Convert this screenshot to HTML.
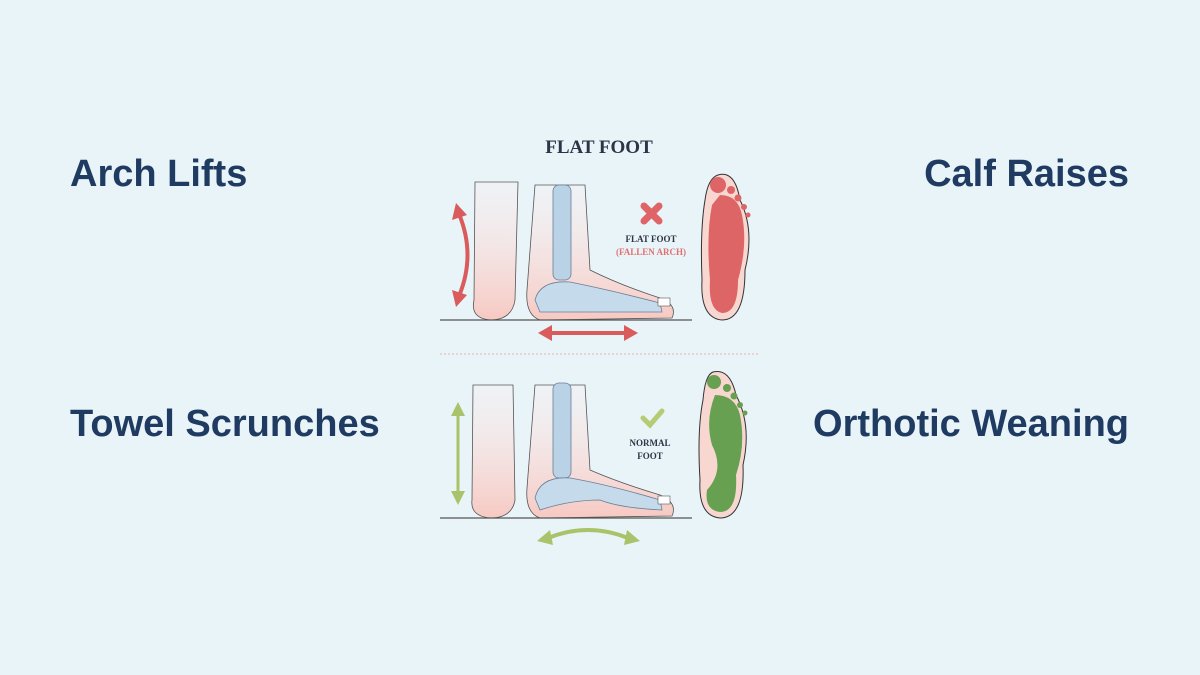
<!DOCTYPE html>
<html><head><meta charset="utf-8"><style>
html,body{margin:0;padding:0;}
body{width:1200px;height:675px;background:#e9f4f9;overflow:hidden;position:relative;font-family:"Liberation Sans",Arial,sans-serif;}
.l{position:absolute;font-weight:bold;font-size:38px;color:#1f3b61;line-height:1;white-space:nowrap;}
</style></head><body>
<div class="l" style="left:70px;top:155px;">Arch Lifts</div>
<div class="l" style="right:71px;top:155px;">Calf Raises</div>
<div class="l" style="left:70px;top:405px;">Towel Scrunches</div>
<div class="l" style="right:71px;top:405px;">Orthotic Weaning</div>
<svg width="1200" height="675" style="position:absolute;left:0;top:0">
<defs>
<linearGradient id="sk" x1="0" y1="0" x2="0" y2="1"><stop offset="0" stop-color="#fbeeee" stop-opacity="0.3"/><stop offset="1" stop-color="#f7c9c2"/></linearGradient>
</defs>
<text x="599" y="153" text-anchor="middle" font-family="Liberation Serif,serif" font-weight="bold" font-size="19" fill="#2e3446">FLAT FOOT</text>
<!-- TOP -->
<path d="M475 182 L518 182 L515 300 Q512 320 490 320 Q470 318 474 300 Z" fill="url(#sk)" stroke="#555" stroke-width="0.8"/>
<path d="M535 185 L585 185 L590 270 Q620 285 660 298 Q678 305 672 318 L540 320 Q525 315 527 290 Z" fill="url(#sk)" stroke="#555" stroke-width="0.8"/>
<rect x="553" y="185" width="18" height="95" rx="6" fill="#b9d2e6" stroke="#6a7f96" stroke-width="0.8"/>
<path d="M535 300 Q540 280 570 282 Q610 290 660 303 L662 312 Q600 312 540 312 Z" fill="#c5dbec" stroke="#6a7f96" stroke-width="0.8"/>
<rect x="658" y="298" width="12" height="8" fill="#fff" stroke="#555" stroke-width="0.6"/>
<line x1="440" y1="320" x2="692" y2="320" stroke="#555" stroke-width="1.2"/>
<path d="M459 214 Q476 255 459 296" fill="none" stroke="#d95b5b" stroke-width="4"/>
<path d="M456 203 L452 220 L467 215 Z M456 307 L452 290 L467 295 Z" fill="#d95b5b"/>
<line x1="548" y1="333" x2="628" y2="333" stroke="#d95b5b" stroke-width="4"/>
<path d="M538 333 L552 325 L552 341 Z M638 333 L624 325 L624 341 Z" fill="#d95b5b"/>
<path d="M644 206 L659 221 M659 206 L644 221" stroke="#de6468" stroke-width="7" stroke-linecap="round"/>
<text x="651" y="242" text-anchor="middle" font-family="Liberation Serif,serif" font-weight="bold" font-size="9" fill="#2e3446">FLAT FOOT</text>
<text x="651" y="255" text-anchor="middle" font-family="Liberation Serif,serif" font-weight="bold" font-size="9" fill="#e07070">(FALLEN ARCH)</text>
<path d="M718 175 Q735 170 740 200 Q755 230 745 270 Q745 320 722 320 Q700 318 702 280 Q700 230 705 200 Q708 178 718 175 Z" fill="#f8d7d0" stroke="#333" stroke-width="1"/>
<path d="M720 195 Q738 195 742 215 Q748 245 738 280 Q738 313 722 313 Q708 310 710 280 Q706 235 712 205 Z" fill="#dd6566"/>
<circle cx="718" cy="185" r="8" fill="#dd6566"/><circle cx="731" cy="190" r="4" fill="#dd6566"/><circle cx="738" cy="198" r="3.5" fill="#dd6566"/><circle cx="744" cy="207" r="3" fill="#dd6566"/><circle cx="748" cy="215" r="2.5" fill="#dd6566"/>
<line x1="440" y1="354" x2="760" y2="354" stroke="#f0b0b0" stroke-width="1" stroke-dasharray="2,2"/>
<!-- BOTTOM -->
<path d="M473 385 L513 385 L515 500 Q512 518 490 518 Q470 516 472 500 Z" fill="url(#sk)" stroke="#555" stroke-width="0.8"/>
<path d="M535 385 L585 385 L590 470 Q620 483 660 495 Q678 503 672 516 L540 518 Q525 513 527 488 Z" fill="url(#sk)" stroke="#555" stroke-width="0.8"/>
<rect x="553" y="383" width="18" height="95" rx="6" fill="#b9d2e6" stroke="#6a7f96" stroke-width="0.8"/>
<path d="M535 498 Q540 476 570 478 Q610 485 660 500 L662 510 Q620 508 600 500 Q570 500 540 510 Z" fill="#c5dbec" stroke="#6a7f96" stroke-width="0.8"/>
<rect x="658" y="496" width="12" height="8" fill="#fff" stroke="#555" stroke-width="0.6"/>
<line x1="440" y1="518" x2="692" y2="518" stroke="#555" stroke-width="1.2"/>
<line x1="458" y1="412" x2="458" y2="495" stroke="#a8c46a" stroke-width="3"/>
<path d="M458 402 L451 416 L465 416 Z M458 505 L451 491 L465 491 Z" fill="#a8c46a"/>
<path d="M548 538 Q588 522 628 538" fill="none" stroke="#a8c46a" stroke-width="4"/>
<path d="M537 541 L550 530 L553 545 Z M640 541 L627 530 L624 545 Z" fill="#a8c46a"/>
<path d="M643 418 L650 425 L662 411" fill="none" stroke="#b5cb74" stroke-width="5" stroke-linecap="round"/>
<text x="650" y="446" text-anchor="middle" font-family="Liberation Serif,serif" font-weight="bold" font-size="9" fill="#2e3446">NORMAL</text>
<text x="650" y="459" text-anchor="middle" font-family="Liberation Serif,serif" font-weight="bold" font-size="9" fill="#2e3446">FOOT</text>
<path d="M713 372 Q730 368 736 395 Q752 425 743 465 Q745 518 720 518 Q698 516 700 480 Q697 430 703 400 Q705 375 713 372 Z" fill="#f8d7d0" stroke="#333" stroke-width="1"/>
<path d="M715 395 Q735 395 740 415 Q746 445 736 475 Q738 512 720 512 Q704 510 707 490 Q725 470 712 445 Q705 420 715 395 Z" fill="#66a050"/>
<circle cx="714" cy="382" r="7" fill="#66a050"/><circle cx="727" cy="388" r="4" fill="#66a050"/><circle cx="734" cy="396" r="3.5" fill="#66a050"/><circle cx="740" cy="405" r="3" fill="#66a050"/><circle cx="745" cy="413" r="2.5" fill="#66a050"/>
</svg>
</body></html>
